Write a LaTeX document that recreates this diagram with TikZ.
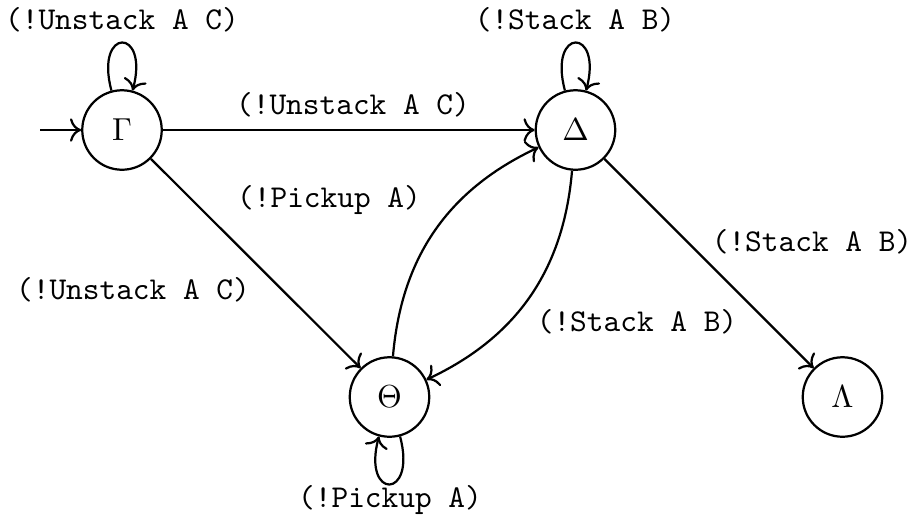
\documentclass[tikz,border=0pt]{standalone}
\usetikzlibrary{arrows.meta}
\begin{document}
\begin{tikzpicture}[x=0.3145pt,y=-0.3145pt,
  state/.style={draw,circle,minimum size=25pt,inner sep=0pt,line width=0.7pt},
  lbl/.style={font=\ttfamily},
  edge/.style={-{To[scale=1.12]},line width=0.7pt}]
\useasboundingbox (0,0) rectangle (917,526);
\node[state] (G) at (122,130) {$\Gamma$};
\node[state] (D) at (575.5,130) {$\Delta$};
\node[state] (T) at (389.5,397) {$\Theta$};
\node[state] (L) at (842.5,397) {$\Lambda$};
\coordinate (init) at (40,130);
\draw[edge] (init) -- (G);
\draw[edge] (G) to[loop above,looseness=8] (G);
\draw[edge] (D) to[loop above,looseness=8] (D);
\draw[edge] (T) to[loop below,looseness=8] (T);
\draw[edge] (G) -- (D);
\draw[edge] (G) -- (T);
\draw[edge] (T) to[bend left=30] (D);
\draw[edge] (D) to[bend left=30] (T);
\draw[edge] (D) -- (L);
\node[lbl] (l1) at (122,20) {(!Unstack A C)};
\node[lbl] (l2) at (575,20) {(!Stack A B)};
\node[lbl] (l3) at (353,105) {(!Unstack A C)};
\node[lbl] (l4) at (329,200) {(!Pickup A)};
\node[lbl] (l5) at (133,290) {(!Unstack A C)};
\node[lbl] (l6) at (637,322) {(!Stack A B)};
\node[lbl] (l7) at (812,242) {(!Stack A B)};
\node[lbl] (l8) at (390,500) {(!Pickup A)};
\end{tikzpicture}
\end{document}
